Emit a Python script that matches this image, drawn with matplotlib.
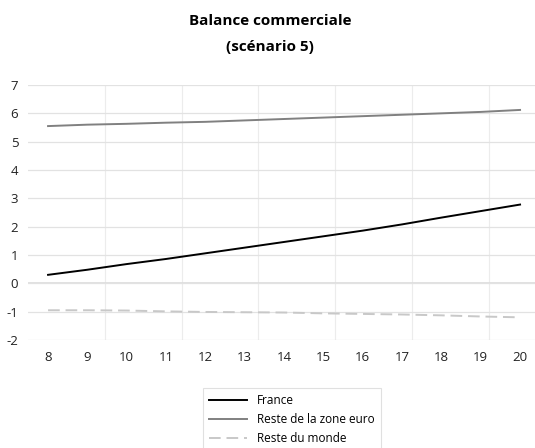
import matplotlib
matplotlib.use("Agg")
import matplotlib.pyplot as plt

# Données
annees = [8, 9, 10, 11, 12, 13, 14, 15, 16, 17, 18, 19, 20]
france = [0.30, 0.48, 0.68, 0.86, 1.06, 1.26, 1.46, 1.66, 1.86, 2.08, 2.32, 2.55, 2.78]
zone_euro = [5.55, 5.60, 5.63, 5.67, 5.70, 5.75, 5.80, 5.85, 5.90, 5.95, 6.00, 6.05, 6.12]
reste_monde = [-0.95, -0.95, -0.96, -0.99, -1.01, -1.02, -1.03, -1.06, -1.08, -1.10, -1.13, -1.17, -1.20]

plt.rcParams["font.family"] = ["Open Sans", "DejaVu Sans"]
plt.rcParams["axes.unicode_minus"] = False

fig = plt.figure(figsize=(5.35, 4.48), dpi=100)
ax = fig.add_axes([28 / 535, (448 - 340) / 448, 1 - 28 / 535, (340 - 85) / 448])

# grille verticale (fine) et horizontale
for xv in [9.45, 11.4, 13.35, 15.3, 17.25, 19.2]:
    ax.axvline(xv, color="#ececec", lw=0.8, zorder=0)
ax.grid(axis="y", color="#e2e2e2", lw=0.9, zorder=0)
ax.axhline(0, color="#dcdcdc", lw=1.2, zorder=0)

ax.plot(annees, france, color="black", lw=1.4, label="France")
ax.plot(annees, zone_euro, color="#808080", lw=1.4, label="Reste de la zone euro")
ax.plot(annees, reste_monde, color="#c8c8c8", lw=1.4, dashes=(6, 3), label="Reste du monde")

ax.set_xlim(7.49, 20.38)
ax.set_ylim(-2, 7)
ax.set_xticks(annees)
ax.set_yticks(range(-2, 8))
for s in ax.spines.values():
    s.set_visible(False)
ax.tick_params(length=0, labelsize=9.5, colors="#222222")
ax.tick_params(axis="x", pad=8)
ax.tick_params(axis="y", pad=7)

fig.text(0.505, 1 - 21 / 448, "Balance commerciale", ha="center", va="center",
         fontsize=11, fontweight="bold")
fig.text(0.505, 1 - 47 / 448, "(scénario 5)", ha="center", va="center",
         fontsize=11, fontweight="bold")

leg = fig.legend(loc="upper left", bbox_to_anchor=(197 / 535, 1 - 382 / 448), fontsize=8.5,
                 frameon=True, fancybox=False, edgecolor="#d9d9d9", handlelength=3.2,
                 labelspacing=0.5, borderpad=0.55)
leg.get_frame().set_linewidth(0.8)

fig.savefig("out.png", dpi=100)
